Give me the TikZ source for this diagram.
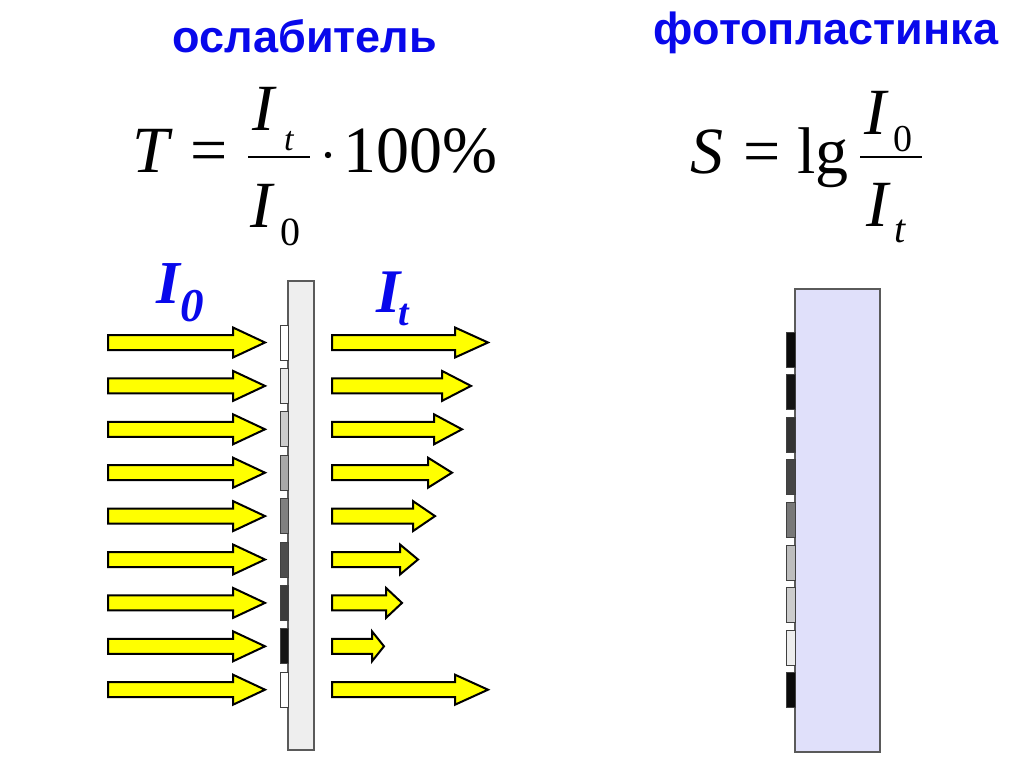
\documentclass[tikz,border=0pt]{standalone}
\usepackage{fontspec}
\setmainfont{Liberation Serif}
\newfontfamily\titlefont{Liberation Sans}
\usetikzlibrary{positioning}
\definecolor{Blau}{RGB}{8,8,235}
\definecolor{Gelb}{RGB}{255,255,0}
\definecolor{Lila}{RGB}{224,224,250}
\definecolor{Platte}{RGB}{238,238,238}
\definecolor{Rand}{RGB}{90,90,90}
% fat yellow arrow: start x, tip x, head length, y
\newcommand{\strela}[4]{%
  \draw[ray] (#1,#4-7.5) -- (#2-#3,#4-7.5) -- (#2-#3,#4-15) -- (#2,#4)
    -- (#2-#3,#4+15) -- (#2-#3,#4+7.5) -- (#1,#4+7.5) -- cycle;}

\begin{document}
\begin{tikzpicture}[
  x=1pt,y=-1pt,
  every node/.style={inner sep=0pt,anchor=base west},
  title/.style={font=\titlefont\bfseries\fontsize{45}{50}\selectfont,text=Blau,anchor=base},
  rm/.style={font=\fontsize{66}{70}\selectfont},
  it/.style={font=\itshape\fontsize{66}{70}\selectfont},
  itsub/.style={font=\itshape\fontsize{#1}{44}\selectfont},
  rmsub/.style={font=\fontsize{#1}{44}\selectfont},
  lbl/.style={font=\bfseries\itshape\fontsize{#1}{66}\selectfont,text=Blau},
  ray/.style={fill=Gelb,draw=black,line width=2pt,line join=miter},
  patch/.style={draw=black!75,line width=1pt},
  plate/.style={draw=Rand,line width=1.2pt},
  bar/.style={line width=2.4pt}
]
  \fill[white] (0,0) rectangle (1024,767);
  \useasboundingbox (0,0) rectangle (1024,767);

  % --- attenuator
  \node[title] (tOsl) at (305,53) {ослабитель};
  \node[it] (tT) at (132,173) {T};
  \node[rm] (tEq) at (190,173) {=};
  \node[it] (tNum) at (252,131) {I};
  \node[itsub=34] (tNumSub) at (284,151) {t};
  \draw[bar] (248,157) -- (310,157);
  \node[it] (tDen) at (250,227) {I};
  \node[rmsub=40] (tDenSub) at (280,245) {0};
  \fill (328,155) circle (3.2);
  \node[rm] (tPct) at (343,173) {100\%};

  \node[lbl=61] (lIo) at (156,303)
    {I\kern1pt\fontsize{47}{50}\selectfont\raisebox{-18pt}{0}};
  \node[lbl=62] (lIt) at (376,312)
    {I\kern-2pt\fontsize{38}{40}\selectfont\raisebox{-13pt}{t}};

  \draw[plate,fill=Platte] (288,281) rectangle (314,750);
  \foreach \i/\shade in {0/white,1/black!9,2/black!20,3/black!34,4/black!50,
                         5/black!70,6/black!77,7/black!92,8/white} {
    \pgfmathsetmacro{\yc}{342.5+43.4*\i}
    \draw[patch,fill=\shade] (280,\yc-17.5) rectangle (288,\yc+17.5);
    \strela{108}{265}{32}{\yc}
  }
  \foreach \i/\tip/\hl in {0/488/33,1/471/29,2/462/28,3/452/24,4/435/22,
                           5/418/18,6/402/16,7/384/12,8/488/33} {
    \pgfmathsetmacro{\yc}{342.5+43.4*\i}
    \strela{332}{\tip}{\hl}{\yc}
  }

  % --- photographic plate
  \node[title] (tFoto) at (826,45) {фотопластинка};
  \node[it] (sS) at (690,174) {S};
  \node[rm] (sEq) at (743,174) {=};
  \node[rm] (sLg) at (797,174) {lg};
  \draw[bar] (860,157) -- (922,157);
  \node[it] (sNum) at (864,135) {I};
  \node[rmsub=38] (sNumSub) at (893,152) {0};
  \node[it] (sDen) at (866,226) {I};
  \node[itsub=40] (sDenSub) at (894,243) {t};

  \draw[plate,fill=Lila] (795,289) rectangle (880,752);
  \foreach \i/\shade in {0/black!96,1/black!92,2/black!80,3/black!73,4/black!53,
                         5/black!26,6/black!20,7/black!7,8/black!96} {
    \pgfmathsetmacro{\yc}{349.5+42.6*\i}
    \draw[patch,fill=\shade] (786,\yc-17.5) rectangle (795,\yc+17.5);
  }
\end{tikzpicture}
\end{document}
